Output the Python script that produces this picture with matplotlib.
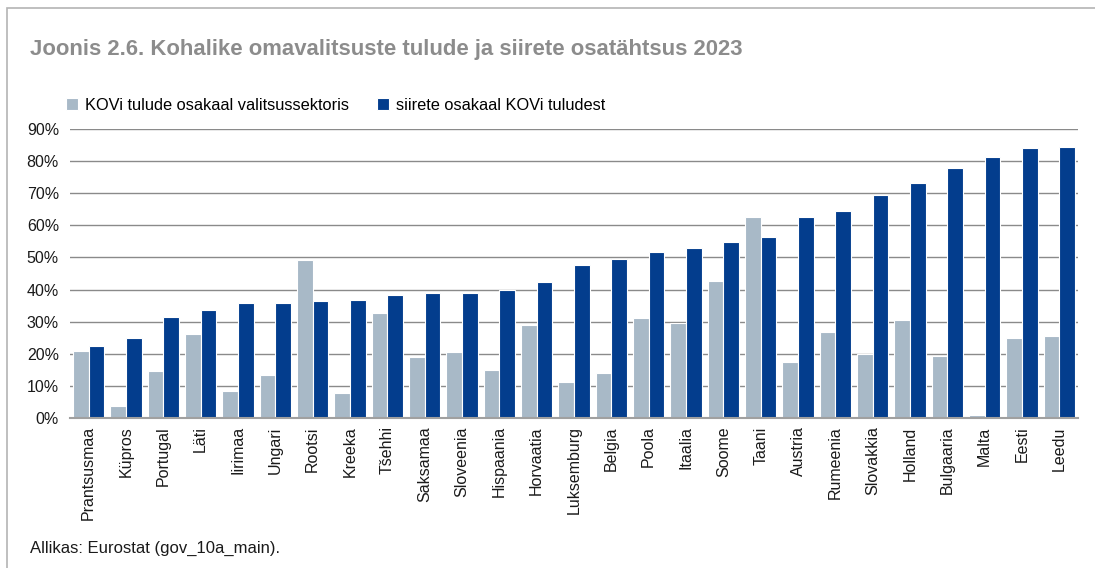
import matplotlib.pyplot as plt
import numpy as np
from matplotlib.patches import Rectangle
from matplotlib.ticker import PercentFormatter

plt.rcParams['font.family'] = ['Liberation Sans', 'DejaVu Sans']

countries = ['Prantsusmaa', 'Küpros', 'Portugal', 'Läti', 'Iirimaa', 'Ungari',
             'Rootsi', 'Kreeka', 'Tšehhi', 'Saksamaa', 'Sloveenia', 'Hispaania',
             'Horvaatia', 'Luksemburg', 'Belgia', 'Poola', 'Itaalia', 'Soome',
             'Taani', 'Austria', 'Rumeenia', 'Slovakkia', 'Holland', 'Bulgaaria',
             'Malta', 'Eesti', 'Leedu']
kov_share = [21.0, 3.8, 14.6, 26.3, 8.3, 13.4, 49.2, 7.9, 32.7, 19.0, 20.4,
             15.1, 28.9, 11.2, 14.1, 31.2, 29.7, 42.7, 62.7, 17.4, 26.7, 20.0,
             30.6, 19.4, 1.0, 24.8, 25.5]
transfer_share = [22.5, 25.0, 31.3, 33.5, 35.9, 35.9, 36.4, 36.7, 38.4, 38.8,
                  39.0, 39.8, 42.3, 47.8, 49.5, 51.7, 53.0, 54.7, 56.3, 62.5,
                  64.5, 69.4, 73.2, 77.8, 81.3, 84.0, 84.4]
legend_labels = ['KOVi tulude osakaal valitsussektoris',
                 'siirete osakaal KOVi tuludest']

light = '#a8b9c7'
dark = '#033d8d'
grey_text = '#8c8c8c'

fig = plt.figure(figsize=(10.95, 5.68), dpi=100)

# outer frame
fig.patches.append(Rectangle((7 / 1095, -0.05), 1.1, 1 - 8 / 568 + 0.05,
                             transform=fig.transFigure, fill=False,
                             edgecolor='#b4b4b4', linewidth=1.2))

ax = fig.add_axes([70 / 1095, 1 - 418 / 568, 1008 / 1095, 289 / 568])

x = np.arange(len(countries))
w = 0.42
b1 = ax.bar(x - w / 2, kov_share, w, color=light, edgecolor='white',
            linewidth=0.8, label=legend_labels[0], zorder=3)
b2 = ax.bar(x + w / 2, transfer_share, w, color=dark, edgecolor='white',
            linewidth=0.8, label=legend_labels[1], zorder=3)

ax.set_xlim(-0.5, len(countries) - 0.5)
ax.set_ylim(0, 90)
ax.set_yticks(range(0, 91, 10))
ax.yaxis.set_major_formatter(PercentFormatter(decimals=0))
ax.grid(axis='y', color='#8a8a8a', linewidth=1.0, zorder=0)
for s in ['top', 'right', 'left']:
    ax.spines[s].set_visible(False)
ax.spines['bottom'].set_color('#a0a0a0')
ax.spines['bottom'].set_linewidth(1.5)
ax.spines['bottom'].set_zorder(4)
ax.set_xticks(x)
ax.set_xticklabels(countries, rotation=90, fontsize=11.5, color='#1a1a1a')
ax.tick_params(axis='x', length=0, pad=6)
ax.tick_params(axis='y', length=0, pad=8, labelsize=11.5, labelcolor='#1a1a1a')

fig.text(30 / 1095, 1 - 50 / 568, 'Joonis 2.6. Kohalike omavalitsuste tulude ja siirete osatähtsus 2023',
         fontsize=15.9, fontweight='bold', color=grey_text, va='center', ha='left')

fig.legend(handles=[b1, b2], loc='center left', bbox_to_anchor=(66 / 1095, 1 - 105 / 568),
           ncol=2, frameon=False, fontsize=11.8, handlelength=0.75, handleheight=0.75,
           handletextpad=0.4, columnspacing=1.7, borderaxespad=0, borderpad=0)

fig.text(30 / 1095, 1 - 548 / 568, 'Allikas: Eurostat (gov_10a_main).',
         fontsize=12, color='#1a1a1a', va='center', ha='left')

fig.savefig('out.png', dpi=100)
